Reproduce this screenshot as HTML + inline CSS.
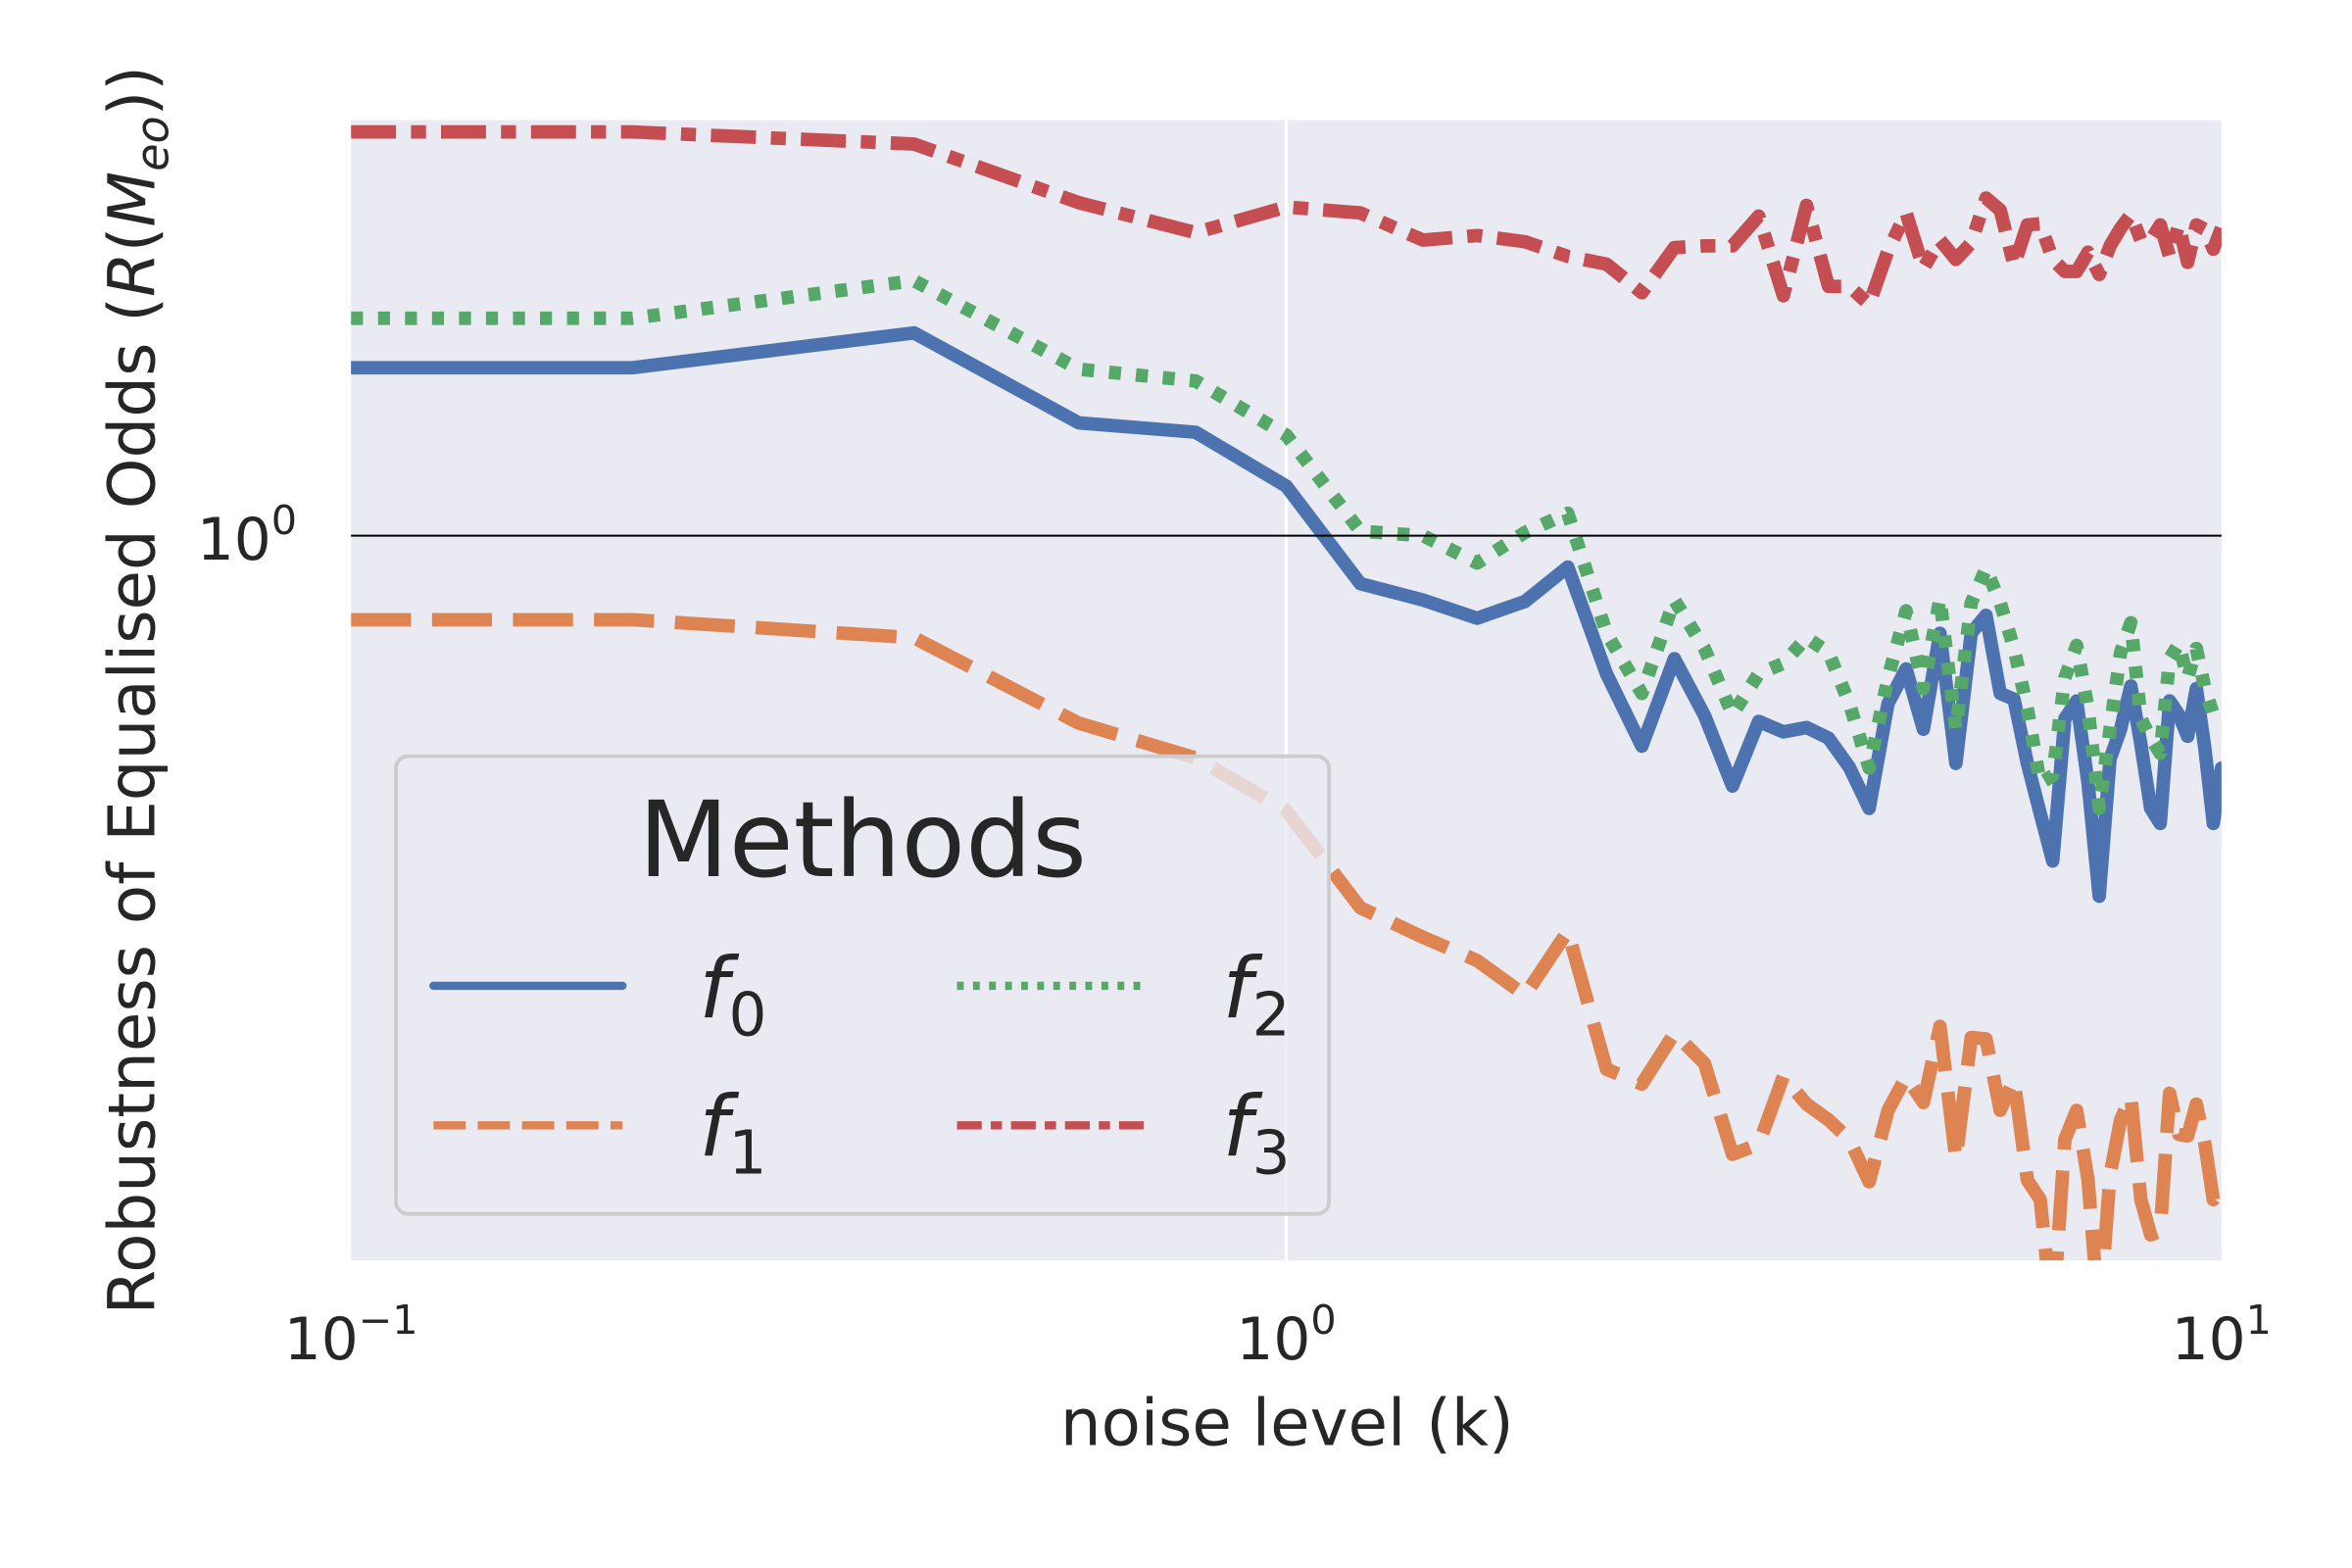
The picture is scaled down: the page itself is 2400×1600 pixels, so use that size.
<!DOCTYPE html>
<html>
<head>
<meta charset="utf-8">
<style>
html,body{margin:0;padding:0;background:#fff;}
svg{display:block;}
text{font-family:"DejaVu Sans","Liberation Sans",sans-serif;fill:#262626;}
</style>
</head>
<body>
<svg id="chart" width="2400" height="1600" viewBox="0 0 1568 1045" preserveAspectRatio="none" xmlns="http://www.w3.org/2000/svg">
  <defs>
    <clipPath id="plotclip"><rect x="234" y="80" width="1247" height="760"/></clipPath>
  </defs>
  <rect x="0" y="0" width="1568" height="1045" fill="#ffffff"/>
  <rect x="234" y="80" width="1247" height="760" fill="#eaeaf2"/>
  <g id="grid"></g>
  <g id="series" clip-path="url(#plotclip)"></g>
  <line x1="234" x2="1481" y1="357" y2="357" stroke="#000" stroke-width="1.3"/>

  <g>
    <rect x="264" y="504" width="622" height="305" rx="8" fill="#eaeaf2" fill-opacity="0.8" stroke="#cccccc" stroke-width="2.5"/>
    <text x="575" y="584" font-size="70" text-anchor="middle">Methods</text>
    <line x1="289" x2="415" y1="657" y2="657" stroke="#4c72b0" stroke-width="5.5" stroke-linecap="round"/>
    <text x="466" y="678" font-size="56" font-style="italic">f<tspan font-size="40" font-style="normal" dy="12">0</tspan></text>
    <line x1="289" x2="415" y1="750" y2="750" stroke="#dd8452" stroke-width="5.5" stroke-dasharray="21.5 8"/>
    <text x="466" y="770" font-size="56" font-style="italic">f<tspan font-size="40" font-style="normal" dy="12">1</tspan></text>
    <line x1="638" x2="764" y1="657" y2="657" stroke="#55a868" stroke-width="5.5" stroke-dasharray="4.5 6.2"/>
    <text x="815" y="678" font-size="56" font-style="italic">f<tspan font-size="40" font-style="normal" dy="12">2</tspan></text>
    <line x1="638" x2="764" y1="750" y2="750" stroke="#c44e52" stroke-width="5.5" stroke-dasharray="16.5 6 7.5 6"/>
    <text x="815" y="770" font-size="56" font-style="italic">f<tspan font-size="40" font-style="normal" dy="12">3</tspan></text>
  </g>

  <g id="xticks"></g>
  <g id="yticks"></g>
  <text x="858" y="963" font-size="43" text-anchor="middle">noise level (k)</text>
  <text transform="translate(103,460) rotate(-90)" font-size="43" text-anchor="middle">Robustness of Equalised Odds (<tspan font-style="italic">R</tspan>(<tspan font-style="italic">M</tspan><tspan font-style="italic" font-size="30" dy="9">eo</tspan><tspan dy="-9">))</tspan></text>
</svg>
<script>
const kValues = [0.1,0.2,0.4,0.6,0.8,1.0,1.2,1.4,1.6,1.8,2.0,2.2,2.4,2.6,2.8,3.0,3.2,3.4,3.6,3.8,4.0,4.2,4.4,4.6,4.8,5.0,5.2,5.4,5.6,5.8,6.0,6.2,6.4,6.6,6.8,7.0,7.2,7.4,7.6,7.8,8.0,8.2,8.4,8.6,8.8,9.0,9.2,9.4,9.6,9.8,10.0];
const f0Values = [1.294,1.294,1.365,1.189,1.172,1.079,0.929,0.906,0.881,0.904,0.953,0.809,0.724,0.828,0.759,0.681,0.752,0.740,0.745,0.733,0.701,0.658,0.773,0.815,0.743,0.861,0.705,0.861,0.885,0.785,0.778,0.705,0.653,0.607,0.755,0.776,0.684,0.575,0.710,0.743,0.794,0.726,0.658,0.643,0.776,0.760,0.735,0.791,0.721,0.643,0.700];
const f1Values = [0.879,0.879,0.855,0.750,0.711,0.656,0.565,0.540,0.521,0.494,0.545,0.441,0.431,0.466,0.445,0.387,0.393,0.436,0.418,0.408,0.396,0.371,0.414,0.436,0.419,0.471,0.384,0.463,0.462,0.414,0.434,0.372,0.361,0.300,0.396,0.414,0.372,0.300,0.375,0.408,0.423,0.361,0.342,0.344,0.425,0.399,0.398,0.418,0.393,0.361,0.368];
const f2Values = [1.396,1.396,1.479,1.291,1.268,1.167,1.007,1.000,0.959,1.005,1.035,0.861,0.785,0.906,0.841,0.760,0.809,0.822,0.855,0.836,0.773,0.700,0.804,0.891,0.791,0.908,0.743,0.902,0.951,0.902,0.841,0.767,0.684,0.692,0.804,0.845,0.767,0.658,0.743,0.836,0.875,0.755,0.733,0.716,0.828,0.847,0.804,0.841,0.791,0.760,0.755];
const f3Values = [1.858,1.858,1.824,1.667,1.592,1.656,1.641,1.574,1.585,1.570,1.535,1.517,1.452,1.556,1.560,1.560,1.633,1.445,1.660,1.466,1.466,1.426,1.549,1.641,1.507,1.574,1.528,1.567,1.679,1.648,1.514,1.611,1.614,1.528,1.500,1.500,1.545,1.493,1.560,1.603,1.637,1.574,1.574,1.611,1.535,1.611,1.521,1.611,1.600,1.552,1.603];
const xTickExps = [-1,0,1];
const yTickExps = [0];

const NS = "http://www.w3.org/2000/svg";
const X0 = 234, X1 = 1481, Y0 = 80, Y1 = 840;
const xMinLog = -1, xMaxLog = 1;
const yMinLog = -0.483, yMaxLog = 0.277;
function xScale(k){ return X0 + (Math.log10(k) - xMinLog) / (xMaxLog - xMinLog) * (X1 - X0); }
function yScale(v){ return Y1 - (Math.log10(v) - yMinLog) / (yMaxLog - yMinLog) * (Y1 - Y0); }

const grid = document.getElementById('grid');
xTickExps.forEach(function(e){
  const x = xScale(Math.pow(10, e));
  if (x > X0 + 1 && x < X1 - 1) {
    const l = document.createElementNS(NS, 'line');
    
    
    l.setAttribute('x1', x); l.setAttribute('x2', x);
    l.setAttribute('y1', Y0); l.setAttribute('y2', Y1);
    l.setAttribute('stroke', '#ffffff'); l.setAttribute('stroke-width', '2.2');
    grid.appendChild(l);
  }
});

const xt = document.getElementById('xticks');
xTickExps.forEach(function(e){
  const x = xScale(Math.pow(10, e));
  const t = document.createElementNS(NS, 'text');
  
  
  t.setAttribute('x', x); t.setAttribute('y', 906);
  t.setAttribute('font-size', '39');
  t.setAttribute('text-anchor', 'middle');
  const sup = e < 0 ? '\u2212' + Math.abs(e) : String(e);
  t.innerHTML = '10<tspan font-size="27" dy="-17">' + sup + '</tspan>';
  xt.appendChild(t);
});

const yt = document.getElementById('yticks');
yTickExps.forEach(function(e){
  const y = yScale(Math.pow(10, e));
  const t = document.createElementNS(NS, 'text');
  
  
  t.setAttribute('x', 198); t.setAttribute('y', y + 16);
  t.setAttribute('font-size', '39');
  t.setAttribute('text-anchor', 'end');
  t.innerHTML = '10<tspan font-size="27" dy="-17">' + e + '</tspan>';
  yt.appendChild(t);
});

const seriesG = document.getElementById('series');
function drawSeries(vals, color, dash, name){
  let d = '';
  for (let i = 0; i < kValues.length; i++) {
    d += (i === 0 ? 'M' : 'L') + xScale(kValues[i]).toFixed(2) + ',' + yScale(vals[i]).toFixed(2);
  }
  const p = document.createElementNS(NS, 'path');
  
  
  p.setAttribute('d', d);
  p.setAttribute('fill', 'none');
  p.setAttribute('stroke', color);
  p.setAttribute('stroke-width', '9');
  p.setAttribute('stroke-linejoin', 'round');
  p.setAttribute('stroke-linecap', dash ? 'butt' : 'round');
  if (dash) p.setAttribute('stroke-dasharray', dash);
  seriesG.appendChild(p);
}
drawSeries(f0Values, '#4c72b0', null, 'line-f0');
drawSeries(f1Values, '#dd8452', '40 14', 'line-f1');
drawSeries(f2Values, '#55a868', '8 10', 'line-f2');
drawSeries(f3Values, '#c44e52', '30 10 10 10', 'line-f3');
</script>
</body>
</html>
